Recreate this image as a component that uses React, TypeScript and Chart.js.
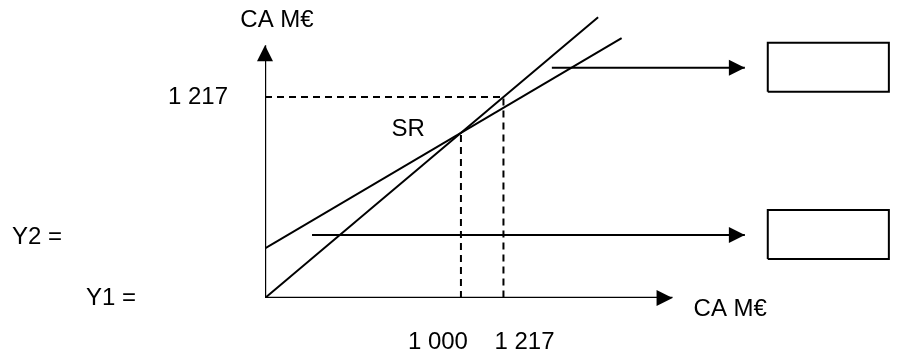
import React, { useEffect, useRef } from "react";
import { Chart, registerables } from "chart.js";

Chart.register(...registerables);

// ---- data (CA en M€) ----
const breakEvenCA = 1000; // SR
const targetCA = 1217;
const xTickLabels = ["1 000", "1 217"];
const yTickLabels = ["1 217"];
const axisLabel = "CA M€";

// Y1 = CA (droite passant par l'origine)
const y1Points = [
  { x: 0, y: 0 },
  { x: 1700, y: 1700 },
];
// Y2 = charges fixes + charges variables
const y2Points = [
  { x: 0, y: 300 },
  { x: 1820, y: 1574 },
];
// axes of the diagram
const xAxisPoints = [
  { x: 0, y: 0 },
  { x: 2080, y: 0 },
];
const yAxisPoints = [
  { x: 0, y: 0 },
  { x: 0, y: 1530 },
];
// dashed guides
const guideSR = [
  { x: breakEvenCA, y: 0 },
  { x: breakEvenCA, y: 1000 },
];
const guideTarget = [
  { x: 0, y: targetCA },
  { x: targetCA, y: targetCA },
  { x: targetCA, y: 0 },
];
// arrows to the answer boxes
const arrowTop = [
  { x: 1464, y: 1394 },
  { x: 2449, y: 1394 },
];
const arrowBottom = [
  { x: 240, y: 382 },
  { x: 2449, y: 382 },
];
const boxTop = [
  { x: 2566, y: 1248 },
  { x: 3184, y: 1248 },
  { x: 3184, y: 1545 },
  { x: 2566, y: 1545 },
  { x: 2566, y: 1248 },
];
const boxBottom = [
  { x: 2566, y: 236 },
  { x: 3184, y: 236 },
  { x: 3184, y: 533 },
  { x: 2566, y: 533 },
  { x: 2566, y: 236 },
];

const FONT = "24px 'Liberation Sans', Arial, sans-serif";

const diagramPlugin = {
  id: "diagram",
  afterDatasetsDraw(chart: any) {
    const ctx = chart.ctx;
    const xs = chart.scales.x;
    const ys = chart.scales.y;
    const px = (v: number) => xs.getPixelForValue(v);
    const py = (v: number) => ys.getPixelForValue(v);
    ctx.save();
    ctx.fillStyle = "#000";

    const head = (x: number, y: number, dir: "right" | "up") => {
      const L = 16;
      const W = 8;
      ctx.beginPath();
      if (dir === "right") {
        ctx.moveTo(x, y);
        ctx.lineTo(x - L, y - W);
        ctx.lineTo(x - L, y + W);
      } else {
        ctx.moveTo(x, y);
        ctx.lineTo(x - W, y + L);
        ctx.lineTo(x + W, y + L);
      }
      ctx.closePath();
      ctx.fill();
    };
    head(px(xAxisPoints[1].x), py(0), "right");
    head(px(0), py(yAxisPoints[1].y), "up");
    head(px(arrowTop[1].x), py(arrowTop[1].y), "right");
    head(px(arrowBottom[1].x), py(arrowBottom[1].y), "right");

    ctx.font = FONT;
    ctx.textBaseline = "middle";
    // axis titles
    ctx.textAlign = "center";
    ctx.fillText(axisLabel, px(0) + 12, py(yAxisPoints[1].y) - 25);
    ctx.textAlign = "left";
    ctx.fillText(axisLabel, px(xAxisPoints[1].x) + 21, py(0) + 11);
    // y tick
    ctx.textAlign = "right";
    ctx.fillText(yTickLabels[0], px(0) - 37, py(targetCA));
    // x ticks
    ctx.textAlign = "center";
    ctx.fillText(xTickLabels[0], px(breakEvenCA) - 23, py(0) + 44);
    ctx.fillText(xTickLabels[1], px(targetCA) + 21, py(0) + 44);
    // SR
    ctx.textAlign = "right";
    ctx.fillText("SR", px(breakEvenCA) - 36, py(breakEvenCA) - 3);
    // equations
    ctx.textAlign = "left";
    ctx.fillText("Y2 =", 12, py(arrowBottom[0].y) + 2);
    ctx.fillText("Y1 =", 86, py(0));
    ctx.restore();
  },
};

export default function App() {
  const ref = useRef<HTMLCanvasElement | null>(null);
  useEffect(() => {
    document.body.style.margin = "0";
    const solid = (data: any[], width = 2) => ({
      data,
      borderColor: "#000",
      borderWidth: width,
      pointRadius: 0,
      showLine: true,
      fill: false,
      tension: 0,
    });
    const dashed = (data: any[]) => ({ ...solid(data, 2), borderDash: [7, 5] });
    const chart = new Chart(ref.current as HTMLCanvasElement, {
      type: "scatter",
      data: {
        datasets: [
          solid(xAxisPoints, 2.4),
          solid(yAxisPoints, 2.4),
          solid(y1Points),
          solid(y2Points),
          dashed(guideSR),
          dashed(guideTarget),
          solid(arrowTop),
          solid(arrowBottom),
          solid(boxTop),
          solid(boxBottom),
        ] as any,
      },
      options: {
        animation: false,
        responsive: false,
        layout: { padding: { left: 265, right: 22, top: 4, bottom: 60 } },
        plugins: { legend: { display: false }, tooltip: { enabled: false } },
        scales: {
          x: { type: "linear", min: 0, max: 3200, display: false },
          y: { type: "linear", min: 0, max: 1780, display: false },
        },
      },
      plugins: [diagramPlugin],
    });
    return () => chart.destroy();
  }, []);
  return (
    <div style={{ position: "absolute", left: 0, top: 0, width: 914, height: 358, background: "#fff" }}>
      <canvas ref={ref} width={914} height={358} />
    </div>
  );
}
